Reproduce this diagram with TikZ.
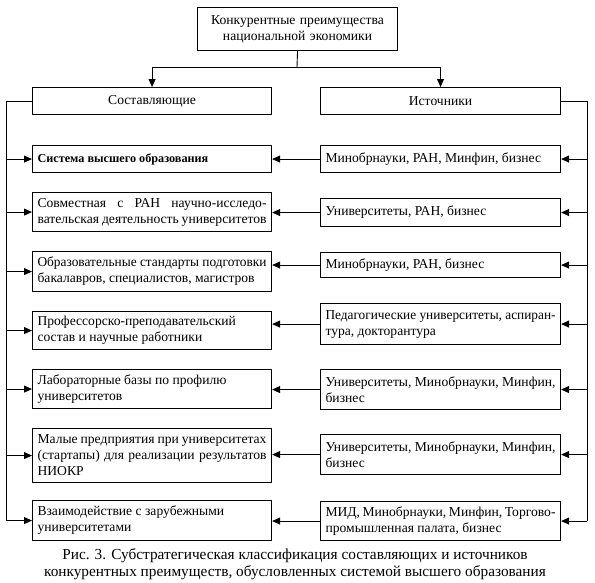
\documentclass[tikz,border=0pt]{standalone}
\usepackage{fontspec}
\usepackage{graphicx}
\setmainfont{Liberation Serif}
\usetikzlibrary{arrows.meta}
\newcommand\fitline[1]{\resizebox{\linewidth}{\height}{#1}}
\begin{document}
\begin{tikzpicture}[x=1pt,y=-1pt,
  box/.style={draw,line width=1.1pt,rectangle,inner xsep=5pt,inner ysep=0pt,anchor=north west,
    font=\fontsize{13.6}{16}\selectfont,align=justify},
  lbox/.style={box,text width=229pt},
  rbox/.style={box,text width=230pt},
  arr/.style={line width=0.9pt,-{Triangle[length=8pt,width=7pt]}},
  ln/.style={line width=0.9pt}]
\useasboundingbox (0,0) rectangle (595,582);
% top
\node[box,minimum width=200pt,minimum height=43pt,text width=190pt,align=center] (T) at (197,7)
  {Конкурентные преимущества\\национальной экономики};
\node[box,minimum width=239pt,minimum height=27pt,text width=229pt,align=center] (LH) at (32,87) {Составляющие};
\node[box,minimum width=240pt,minimum height=27pt,text width=230pt,align=center] (RH) at (320,87) {Источники};
\coordinate (J) at (297,67);
\draw[ln] (T.south) -- (J);
\draw[arr] (J) -| (LH.north);
\draw[arr] (J) -| (RH.north);
% left boxes
\node[lbox,minimum height=27pt] (L1) at (32,145) {\fontsize{12.2}{16}\selectfont\textbf{Система высшего образования}};
\node[lbox,minimum height=39pt] (L2) at (32,192) {Совместная с РАН научно-исследо-\linebreak вательская деятельность университетов};
\node[lbox,minimum height=40pt] (L3) at (32,251) {\fitline{Образовательные стандарты подготовки}\\бакалавров, специалистов, магистров};
\node[lbox,minimum height=38pt] (L4) at (32,311) {Профессорско-преподавательский\\состав и научные работники};
\node[lbox,minimum height=39pt] (L5) at (32,369) {Лабораторные базы по профилю\\университетов};
\node[lbox,minimum height=54pt] (L6) at (32,428) {Малые предприятия при университетах\linebreak (стартапы) для реализации результатов\linebreak НИОКР};
\node[lbox,minimum height=40pt] (L7) at (32,500) {Взаимодействие с зарубежными\\университетами};
% right boxes
\node[rbox,minimum height=27pt] (R1) at (320,145) {Минобрнауки, РАН, Минфин, бизнес};
\node[rbox,minimum height=28pt] (R2) at (320,198) {Университеты, РАН, бизнес};
\node[rbox,minimum height=25pt] (R3) at (320,252) {Минобрнауки, РАН, бизнес};
\node[rbox,minimum height=41pt] (R4) at (320,303) {\fitline{Педагогические университеты, аспиран-}\\тура, докторантура};
\node[rbox,minimum height=40pt] (R5) at (320,369) {Университеты, Минобрнауки, Минфин,\linebreak бизнес};
\node[rbox,minimum height=40pt] (R6) at (320,434) {Университеты, Минобрнауки, Минфин,\linebreak бизнес};
\node[rbox,minimum height=39pt] (R7) at (320,501) {МИД, Минобрнауки, Минфин, Торгово-\linebreak промышленная палата, бизнес};
% buses
\coordinate (LB) at (6,0);
\coordinate (RB) at (587,0);
\draw[ln] (LH.west) -- (LH.west -| LB) -- (L7.west -| LB);
\draw[ln] (RH.east) -- (RH.east -| RB) -- (R7.east -| RB);
\foreach \i in {1,...,7}{
  \draw[arr] (L\i.west -| LB) -- (L\i.west);
  \draw[arr] (R\i.east -| RB) -- (R\i.east);
  \draw[arr] (R\i.west) -- (R\i.west -| L\i.east);
}
% caption
\node[font=\fontsize{15.3}{16.5}\selectfont,align=center,inner sep=0pt] (cap) at (295,564)
  {Рис. 3. Субстратегическая классификация составляющих и источников\\
   конкурентных преимуществ, обусловленных системой высшего образования};
\end{tikzpicture}
\end{document}
